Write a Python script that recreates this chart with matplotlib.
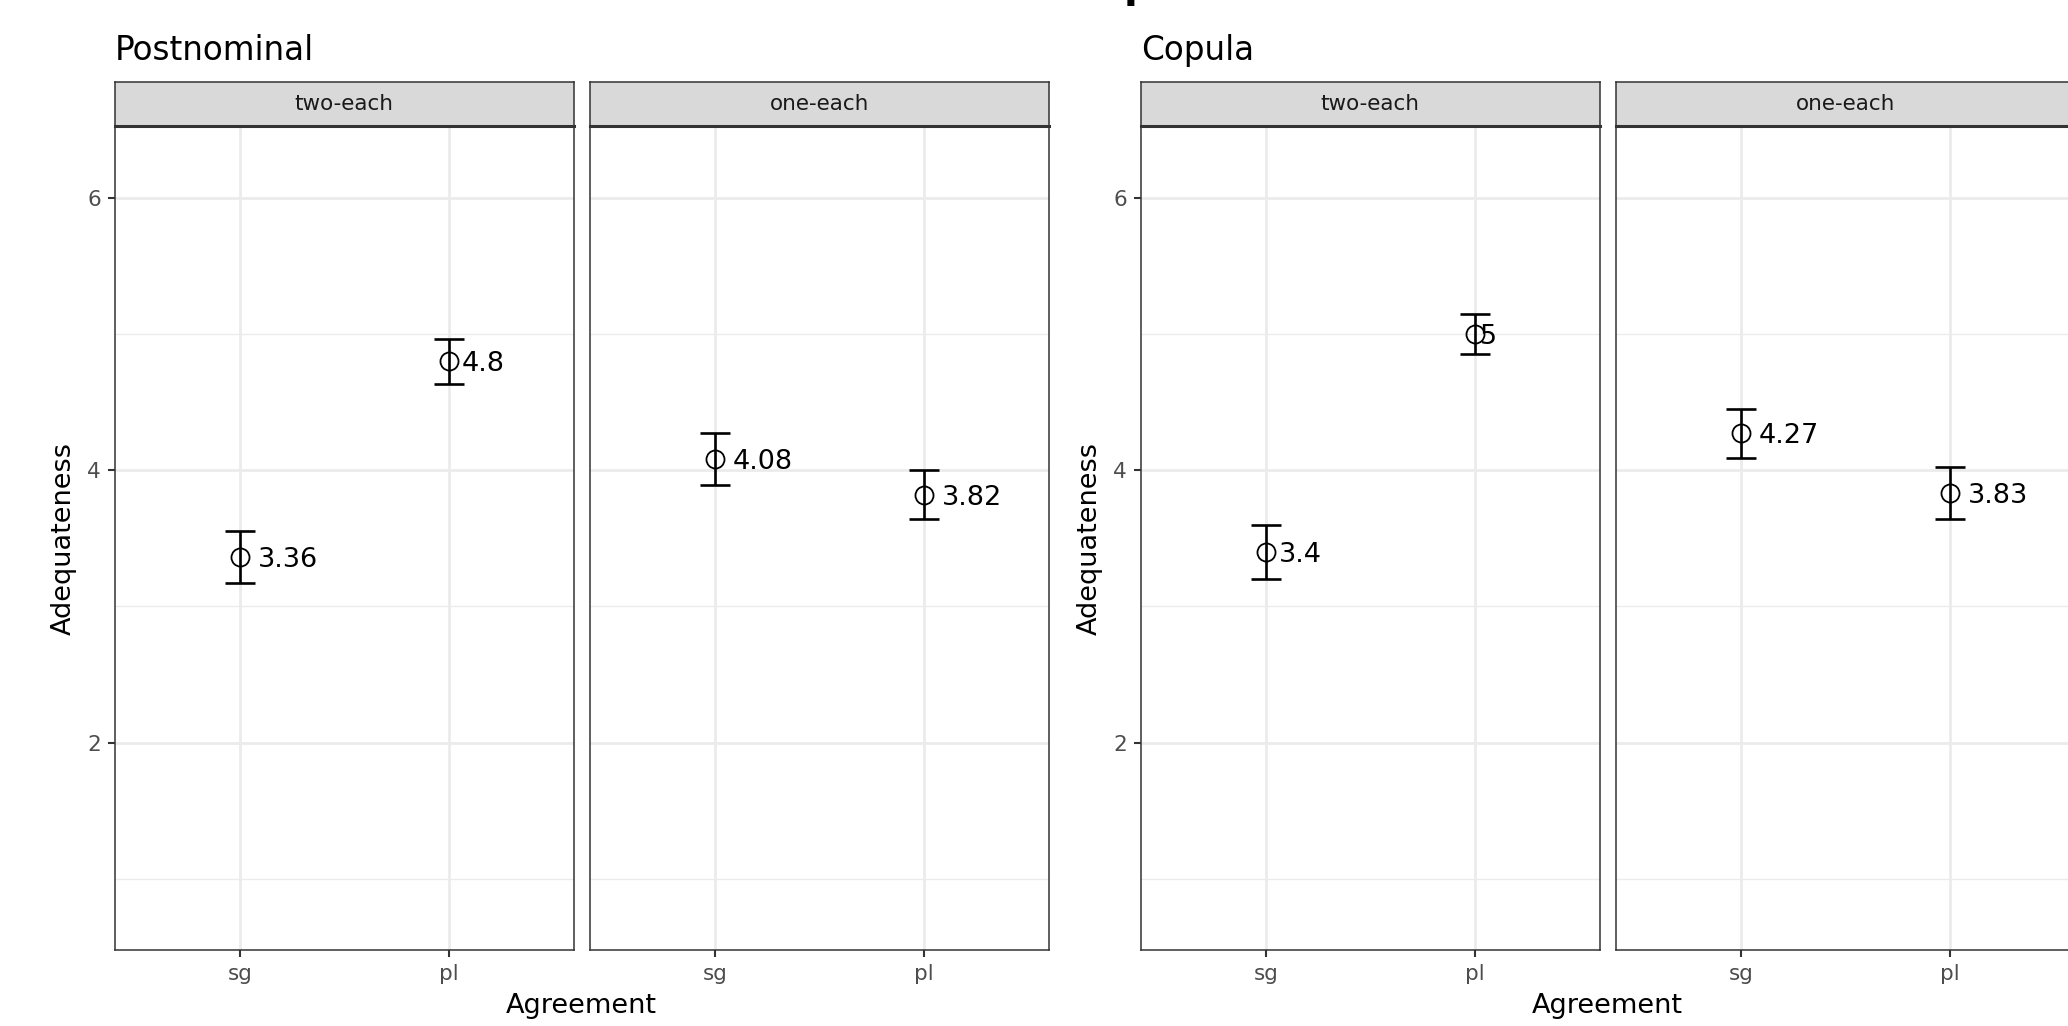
import matplotlib
matplotlib.use('Agg')
import matplotlib.pyplot as plt
from matplotlib.transforms import ScaledTranslation

# data
agreement = ['sg', 'pl']
conditions = ['two-each', 'one-each']
post_two_mean = [3.36, 4.80]
post_two_err = [0.19, 0.165]
post_one_mean = [4.08, 3.82]
post_one_err = [0.19, 0.18]
cop_two_mean = [3.40, 5.00]
cop_two_err = [0.20, 0.145]
cop_one_mean = [4.27, 3.83]
cop_one_err = [0.18, 0.19]

W, H = 2068, 1026
fig = plt.figure(figsize=(W / 100, H / 100), dpi=100)
fig.patch.set_facecolor('white')


def box(x, y, w, h):  # pixel box (from top-left) -> figure fraction
    return [x / W, 1 - (y + h) / H, w / W, h / H]


panel_top, panel_bot = 126, 950.3
strip_top = 82.3
pw = 459
groups = [
    ('Postnominal', 114.7, [(post_two_mean, post_two_err), (post_one_mean, post_one_err)]),
    ('Copula', 1140.7, [(cop_two_mean, cop_two_err), (cop_one_mean, cop_one_err)]),
]

fig.canvas.draw()
renderer = fig.canvas.get_renderer()

for title, left, panels in groups:
    fig.text(left / W, 1 - 60 / H, title, fontsize=23.5, ha='left', va='baseline')
    for k, (means, errs) in enumerate(panels):
        x0 = left + k * (pw + 16)
        ax = fig.add_axes(box(x0, panel_top, pw, panel_bot - panel_top))
        ax.set_xlim(0.4, 2.6)
        ax.set_ylim(0.475, 6.525)
        ax.set_xticks([1, 2])
        ax.set_xticklabels(agreement)
        ax.set_yticks([2, 4, 6])
        ax.set_yticks([1, 3, 5], minor=True)
        ax.grid(True, which='major', color='#EBEBEB', lw=2.0)
        ax.grid(True, which='minor', axis='y', color='#EBEBEB', lw=1.0)
        ax.set_axisbelow(True)
        for s in ax.spines.values():
            s.set_color('#333333')
            s.set_linewidth(1.1)
        ax.tick_params(which='major', length=5, width=1.5, color='#333333',
                       labelcolor='#4D4D4D', labelsize=15.5, pad=5)
        ax.tick_params(which='minor', length=0)
        if k > 0:
            ax.tick_params(axis='y', left=False, labelleft=False)
        xs = [1, 2]
        ax.errorbar(xs, means, yerr=errs, fmt='none', ecolor='black',
                    elinewidth=1.9, capsize=11, capthick=1.9, zorder=3)
        ax.plot(xs, means, 'o', mfc='none', mec='black', ms=13, mew=1.3,
                ls='none', zorder=4)
        for xv, m in zip(xs, means):
            t = ax.text(xv, m, f'{m:g}', fontsize=19.5, ha='left',
                        va='center_baseline', zorder=5)
            w = t.get_window_extent(renderer).width
            t.set_transform(ax.transData + ScaledTranslation(0.3 * w / 100, 0,
                                                             fig.dpi_scale_trans))
        # strip
        sax = fig.add_axes(box(x0, strip_top, pw, panel_top - strip_top))
        sax.set_facecolor('#D9D9D9')
        sax.set_xticks([])
        sax.set_yticks([])
        for s in sax.spines.values():
            s.set_color('#333333')
            s.set_linewidth(1.1)
        sax.spines['bottom'].set_linewidth(2.2)
        sax.text(0.5, 0.5, conditions[k], transform=sax.transAxes, ha='center',
                 va='center', fontsize=15.5, color='#1A1A1A')
    xmid = (left + left + 2 * pw + 16) / 2
    fig.text(xmid / W, 1 - 1013 / H, 'Agreement', fontsize=19.5, ha='center', va='baseline')
    fig.text((left - 51) / W, 1 - ((panel_top + panel_bot) / 2) / H, 'Adequateness',
             fontsize=19.5, rotation=90, ha='center', va='center')

# overall title, cut off at the top of the picture as in the reference
fig.text(1124 / W, 1 + 3 / H, 'p', fontsize=29, fontweight='bold', ha='left', va='baseline')

fig.savefig('out.png', dpi=100)
